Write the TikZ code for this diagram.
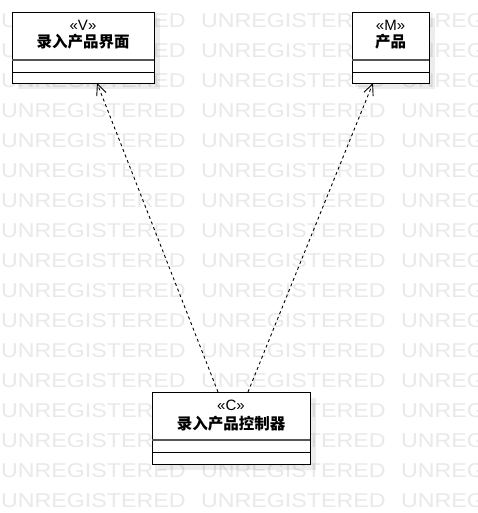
\documentclass[tikz,border=0pt]{standalone}
\usepackage{fontspec}
\setmainfont{Liberation Sans}
\newfontfamily\cjk{Noto Sans CJK SC}
\usetikzlibrary{arrows.meta}
\definecolor{wm}{RGB}{233,233,233}
\definecolor{sepc}{RGB}{85,85,85}
\begin{document}
\begin{tikzpicture}[x=1pt,y=-1pt,
 umlbox/.style={draw=black, fill=white, line width=0.9pt, inner sep=0pt, outer sep=0pt},
 boxshadow/.style={fill=black, opacity=0.07, draw=none, inner sep=0pt, outer sep=0pt},
 stereo/.style={anchor=base, inner sep=0pt, font=\fontsize{15}{15}\selectfont},
 cname/.style={anchor=base, inner sep=0pt, font=\cjk\bfseries\fontsize{15.5}{16}\selectfont},
 wmtext/.style={anchor=base west, inner sep=0pt, text=wm, font=\fontsize{20}{20}\selectfont},
 sepline/.style={draw=sepc, line width=1.4pt},
 sepline2/.style={draw=black, line width=0.8pt},
 dep/.style={draw=black, line width=0.9pt, dash pattern=on 3pt off 3pt, -{Straight Barb[length=11pt,width=10pt]}},
]
\useasboundingbox (0,0) rectangle (478,513);
\fill[white] (0,0) rectangle (478,513);
\begin{scope}
\clip (0,0) rectangle (478,513);
\foreach \k in {0,...,16}{
  \foreach \xx in {1,201,401}{
    \node[wmtext] (wm-\k-\xx) at (\xx, 27.5+30*\k) {\scalebox{1.16}[1]{UNREGISTERED}};
  }
}
\end{scope}
% shadows
\node[boxshadow, minimum width=142pt, minimum height=71pt] (vsh) at (89,53.5) {};
\node[boxshadow, minimum width=77pt, minimum height=71pt] (msh) at (396.5,53.5) {};
\node[boxshadow, minimum width=158pt, minimum height=72pt] (csh) at (237,434) {};
% boxes
\node[umlbox, minimum width=142pt, minimum height=71pt] (v) at (83,47.5) {};
\node[umlbox, minimum width=77pt, minimum height=71pt] (m) at (390.5,47.5) {};
\node[umlbox, minimum width=158pt, minimum height=72pt] (c) at (231,428) {};
% compartments
\draw[sepline] ([yshift=-48pt]v.north west) -- ([yshift=-48pt]v.north east);
\draw[sepline2] ([yshift=-60pt]v.north west) -- ([yshift=-60pt]v.north east);
\draw[sepline] ([yshift=-48pt]m.north west) -- ([yshift=-48pt]m.north east);
\draw[sepline2] ([yshift=-60pt]m.north west) -- ([yshift=-60pt]m.north east);
\draw[sepline] ([yshift=-48pt]c.north west) -- ([yshift=-48pt]c.north east);
\draw[sepline2] ([yshift=-60pt]c.north west) -- ([yshift=-60pt]c.north east);
% texts
\node[stereo] (vst) at (83,30.5) {«V»};
\node[cname] (vnm) at (83,48) {录入产品界面};
\node[stereo] (mst) at (390.5,30.5) {«M»};
\node[cname] (mnm) at (390.5,48) {产品};
\node[stereo] (cst) at (231,410.5) {«C»};
\node[cname] (cnm) at (231,429) {录入产品控制器};
% dependencies
\draw[dep] ([xshift=66pt]c.north west) -- ([xshift=14pt]v.south);
\draw[dep] ([xshift=96pt]c.north west) -- ([xshift=-17.5pt]m.south);
\end{tikzpicture}
\end{document}
